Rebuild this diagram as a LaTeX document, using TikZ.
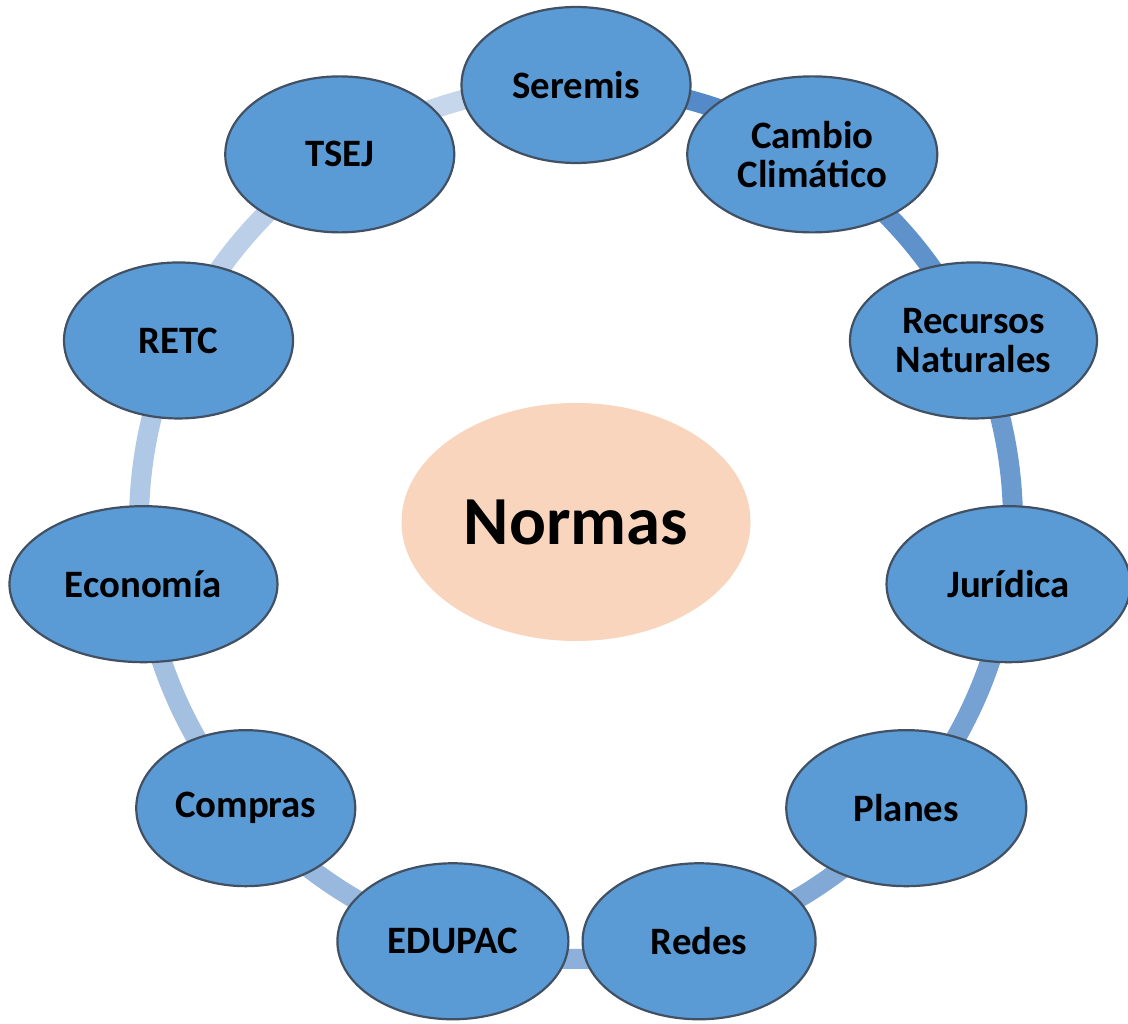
\documentclass[tikz,border=0pt]{standalone}
\usepackage{fontspec}
\setmainfont{Carlito}
\usetikzlibrary{shapes.geometric,backgrounds,calc}
\definecolor{nodeblue}{RGB}{91,155,213}
\definecolor{nodeedge}{RGB}{65,80,98}
\definecolor{peach}{RGB}{248,213,188}
\definecolor{ringdark}{RGB}{84,138,200}
\definecolor{ringlight}{RGB}{198,215,236}
\begin{document}
\begin{tikzpicture}[x=0.5pt,y=0.5pt,
  item/.style={ellipse, draw=nodeedge, line width=1.1pt, fill=nodeblue, inner sep=0pt,
    minimum height=78pt, align=center, font=\bfseries\fontsize{19.4}{19.6}\selectfont},
  hub/.style={ellipse, fill=peach, inner sep=0pt, minimum width=174.5pt, minimum height=119pt,
    font=\bfseries\fontsize{34.4}{36}\selectfont},
  ringseg/.style={line width=10pt}]
\useasboundingbox (0,0) rectangle (1128,1023);
\coordinate (c) at (576,501);
\node[hub] (hub) at (c) {Normas};
\node[item, minimum width=114.5pt] (n0) at ($(c)+(90:218.5pt)$) {Seremis};
\node[item, minimum width=125pt] (n1) at ($(c)+(57.2727:218.5pt)$) {Cambio\\Climático};
\node[item, minimum width=123.5pt] (n2) at ($(c)+(24.5455:218.5pt)$) {Recursos\\Naturales};
\node[item, minimum width=122pt] (n3) at ($(c)+(-8.1818:218.5pt)$) {Jurídica};
\node[item, minimum width=120pt] (n4) at ($(c)+(-40.9091:218.5pt)$) {Planes};
\node[item, minimum width=116.5pt] (n5) at ($(c)+(-73.6364:218.5pt)$) {Redes};
\node[item, minimum width=115.5pt] (n6) at ($(c)+(-106.3636:218.5pt)$) {EDUPAC};
\node[item, minimum width=109.5pt] (n7) at ($(c)+(-139.0909:218.5pt)$) {Compras};
\node[item, minimum width=134pt] (n8) at ($(c)+(-171.8182:218.5pt)$) {Economía};
\node[item, minimum width=114.5pt] (n9) at ($(c)+(155.4545:218.5pt)$) {RETC};
\node[item, minimum width=114.5pt] (n10) at ($(c)+(122.7273:218.5pt)$) {TSEJ};
\begin{pgfonlayer}{background}
\foreach \k [evaluate=\k as \pct using int(100-\k*10)] in {0,...,10} {
  \draw[ringseg, ringdark!\pct!ringlight] (n\k.center)
    arc[start angle={90-\k*360/11}, delta angle={-360/11}, radius=218.5pt];
}
\end{pgfonlayer}
\end{tikzpicture}
\end{document}
